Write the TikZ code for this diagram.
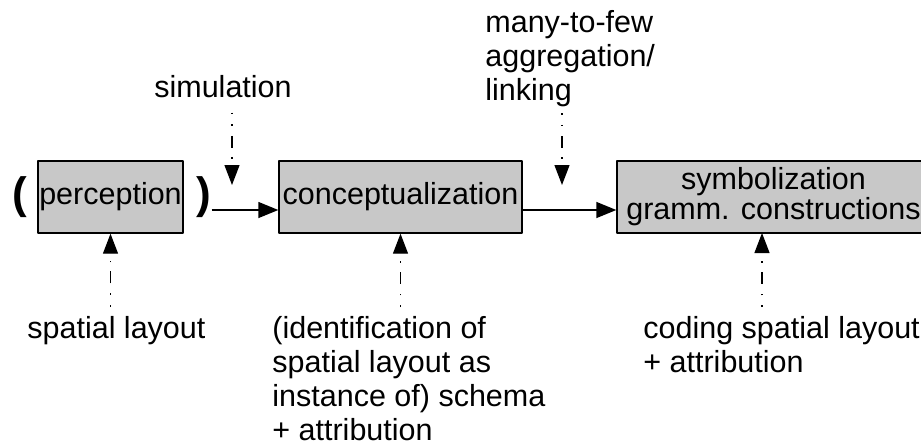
\documentclass[tikz,border=0pt]{standalone}
\usepackage{fontspec}
\setmainfont{Liberation Sans}
\usepackage{tikz}
\usetikzlibrary{arrows.meta}
\definecolor{boxgray}{RGB}{200,200,200}
\tikzstyle{box} = [draw=black,line width=0.7pt,fill=boxgray,inner sep=0pt,minimum height=36pt]
\tikzstyle{paren} = [inner sep=0pt,font=\fontsize{22pt}{24pt}\selectfont\bfseries]
\tikzstyle{note} = [inner sep=0pt,align=left]
\tikzstyle{flow} = [line width=0.7pt,-{Triangle[length=10pt,width=8pt]}]
\tikzstyle{hint} = [line width=0.6pt,dash pattern=on 0.8pt off 5pt on 0.8pt off 5pt on 6pt off 4.5pt,-{Triangle[length=10pt,width=7.5pt]}]

\begin{document}
\begin{tikzpicture}[x=0.5pt,y=-0.5pt,line join=round,font=\fontsize{15.25pt}{17pt}\selectfont]
\useasboundingbox (0,0) rectangle (921,445);
% the three stages
\node[box,minimum width=72.5pt] (perc) at (110.5,197) {perception};
\node[box,minimum width=121.5pt] (concept) at (400.5,197) {conceptualization};
\node[box,minimum width=156.5pt,align=center,font=\fontsize{15.25pt}{15pt}\selectfont] (symb) at (773.5,197) {symbolization\\gramm. constructions};
\node[paren] (lparen) at (20,197) {(};
\node[paren] (rparen) at (204,197) {)};
\draw[flow] ([yshift=-6.5pt]rparen.east) -- ([yshift=-6.5pt]concept.west);
\draw[flow] ([yshift=-6.5pt]concept.east) -- ([yshift=-6.5pt]symb.west);
% processes between stages
\node[note,anchor=base] (sim) at (223,97) {simulation};
\coordinate (simtip) at (232,185);
\draw[hint,shorten <=7.5pt] (sim.south -| simtip) -- (simtip);
\node[note,anchor=north west] (many) at (485,10) {many-to-few\\aggregation/\\linking};
\coordinate (manytip) at (562,185);
\draw[hint,shorten <=3pt] (many.south -| manytip) -- (manytip);
% what each stage works on
\node[note,anchor=base west] (lay) at (27,338) {spatial layout};
\draw[hint,shorten <=4.5pt] (lay.north -| perc.south) -- (perc.south);
\node[note,anchor=north west] (ident) at (272,316) {(identification of\\spatial layout as\\instance of) schema\\+ attribution};
\draw[hint,shorten <=4.5pt] (ident.north -| concept.south) -- (concept.south);
\node[note,anchor=north west] (code) at (643,316) {coding spatial layout\\+ attribution};
\coordinate (symbin) at (762,233);
\draw[hint,shorten <=4.5pt] (code.north -| symbin) -- (symbin);
\end{tikzpicture}
\end{document}
